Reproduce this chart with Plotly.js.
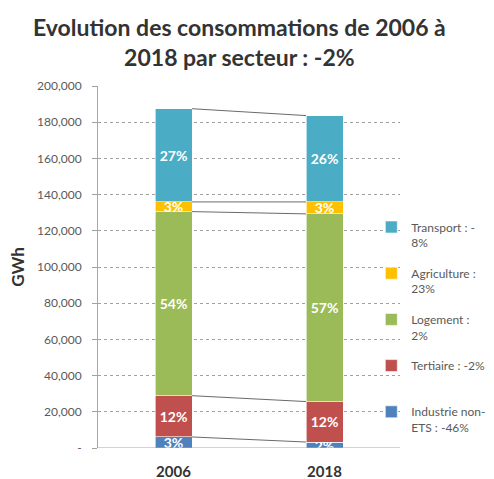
<!DOCTYPE html>
<html>
<head>
<meta charset="utf-8">
<script src="https://cdn.plot.ly/plotly-3.0.1.min.js"></script>
<style>html,body{margin:0;padding:0;background:#fff;}#chart{width:494px;height:479px;}</style>
</head>
<body>
<div id="chart"></div>
<script>
// Data (GWh)
const years = ["2006", "2018"];
const sectors = ["Industrie non-ETS", "Tertiaire", "Logement", "Agriculture", "Transport"];
const legendNames = ["Industrie non-<br>ETS : -46%", "Tertiaire : -2%<br>&nbsp;", "Logement :<br>2%", "Agriculture :<br>23%", "Transport : -<br>8%"];
const industrie = [6100, 3300];
const tertiaire = [22800, 22350];
const logement = [101700, 103700];
const agriculture = [5350, 6600];
const transport = [51500, 47700];
const labelsIndustrie = ["3%", "2%"];
const labelsTertiaire = ["12%", "12%"];
const labelsLogement = ["54%", "57%"];
const labelsAgriculture = ["3%", "3%"];
const labelsTransport = ["27%", "26%"];
const yTickVals = [0, 20000, 40000, 60000, 80000, 100000, 120000, 140000, 160000, 180000, 200000];
const yTickText = ["-", "20,000", "40,000", "60,000", "80,000", "100,000", "120,000", "140,000", "160,000", "180,000", "200,000"];
const chartTitle = "Evolution des consommations de 2006 à<br>2018 par secteur : -2%";

const colors = ["#4F81BD", "#C0504D", "#9BBB59", "#FFC000", "#4BACC6"];
const series = [industrie, tertiaire, logement, agriculture, transport];
const labels = [labelsIndustrie, labelsTertiaire, labelsLogement, labelsAgriculture, labelsTransport];
const xPos = [0, 1];
const barWidth = 0.245;

const traces = series.map((vals, i) => ({
  type: "bar",
  x: xPos,
  y: vals,
  name: legendNames[i],
  legendgroup: "g" + i,
  legendrank: 100 - i,
  width: barWidth,
  marker: {color: colors[i], line: {color: "#ffffff", width: 0.6}},
  text: labels[i],
  textposition: "inside",
  insidetextanchor: "middle",
  textangle: 0,
  constraintext: "none",
  textfont: {family: "Lato, 'Open Sans', sans-serif", size: 14, color: "#ffffff", weight: "bold"},
  hoverinfo: "skip"
}));

// connector lines between stacked tops
let cum = [0, 0];
series.forEach((vals) => {
  cum = [cum[0] + vals[0], cum[1] + vals[1]];
  traces.push({
    type: "scatter",
    mode: "lines",
    x: [xPos[0] + barWidth / 2, xPos[1] - barWidth / 2],
    y: [cum[0], cum[1]],
    line: {color: "#6a6a6a", width: 1},
    showlegend: false,
    hoverinfo: "skip"
  });
});

const layout = {
  width: 494, height: 479,
  margin: {l: 98, r: 94, t: 86, b: 31, autoexpand: false},
  paper_bgcolor: "#ffffff", plot_bgcolor: "#ffffff",
  font: {family: "Lato, 'Open Sans', sans-serif", color: "#595959"},
  barmode: "stack",
  bargap: 0,
  xaxis: {
    range: [-0.5, 1.5],
    tickvals: xPos, ticktext: years,
    tickfont: {size: 15, color: "#333333", weight: "bold"},
    ticklabelstandoff: 13,
    showgrid: false, zeroline: false,
    showline: false, ticks: "",
    fixedrange: true
  },
  yaxis: {
    range: [0, 200000],
    tickvals: yTickVals, ticktext: yTickText,
    tickfont: {size: 12, color: "#595959"},
    ticklabelstandoff: 8,
    showgrid: true, gridcolor: "#a0a0a0", griddash: "dot", gridwidth: 1,
    zeroline: false,
    showline: true, linecolor: "#a6a6a6", linewidth: 1,
    ticks: "outside", ticklen: 5, tickcolor: "#a0a0a0",
    title: {text: "GWh", font: {size: 17, color: "#333333", weight: "bold"}, standoff: 8},
    fixedrange: true
  },
  annotations: [{
    text: chartTitle,
    xref: "paper", yref: "paper",
    x: 0.47, y: 1.122, xanchor: "center", yanchor: "middle",
    showarrow: false,
    font: {family: "Lato, 'Open Sans', sans-serif", size: 23, color: "#333333", weight: "bold"}
  }],
  shapes: [{type: "line", xref: "paper", yref: "y", x0: 0, x1: 1, y0: 0, y1: 0, line: {color: "#a6a6a6", width: 1}}],
  showlegend: true,
  legend: {
    x: 0.905, xanchor: "left", y: 0.65, yanchor: "top",
    traceorder: "grouped",
    tracegroupgap: 12,
    valign: "top",
    font: {size: 12, color: "#595959"},
    itemwidth: 30,
    bgcolor: "rgba(0,0,0,0)"
  }
};

Plotly.newPlot("chart", traces, layout, {displayModeBar: false, staticPlot: true});
</script>
</body>
</html>
